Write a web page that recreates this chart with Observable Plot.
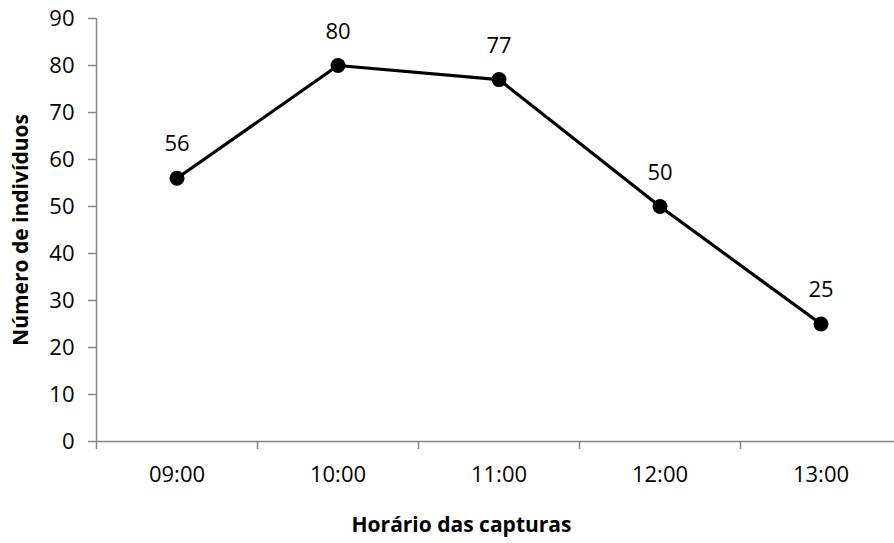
<!DOCTYPE html>
<html><head><meta charset="utf-8">
<script src="https://cdn.jsdelivr.net/npm/d3@7"></script>
<script src="https://cdn.jsdelivr.net/npm/@observablehq/plot@0.6"></script>
<style>body{margin:0;background:#fff}</style>
</head><body><div id="chart"></div>
<script>
const categories = ["09:00","10:00","11:00","12:00","13:00"];
const values = [56, 80, 77, 50, 25];
const yTicks = [0,10,20,30,40,50,60,70,80,90];
const yTitle = "Número de indivíduos";
const xTitle = "Horário das capturas";

const data = categories.map((c, i) => ({pos: i + 0.5, c, v: values[i]}));
const boundaries = d3.range(categories.length + 1);
const gray = "#868686";

const chart = Plot.plot({
  width: 894, height: 543,
  marginLeft: 96, marginTop: 18, marginBottom: 102, marginRight: 0,
  style: {fontFamily: "Open Sans", fontSize: "22px", color: "#000", background: "#fff", overflow: "visible"},
  x: {type: "linear", domain: [0, categories.length], range: [96, 901]},
  y: {domain: [0, 90], range: [441, 18]},
  marks: [
    Plot.axisY({ticks: yTicks, tickSize: 8, tickPadding: 14, stroke: gray, strokeWidth: 1.5, label: null, fontSize: 22}),
    Plot.axisX({ticks: boundaries, tickSize: 8, tickFormat: () => "", stroke: gray, strokeWidth: 1.5, label: null}),
    Plot.axisX({ticks: data.map(d => d.pos), tickSize: 0, tickPadding: 25, tickFormat: d => categories[Math.floor(d)], label: null, fontSize: 22}),
    Plot.ruleX([0], {stroke: gray, strokeWidth: 1.5}),
    Plot.ruleY([0], {stroke: gray, strokeWidth: 1.5}),
    Plot.line(data, {x: "pos", y: "v", stroke: "#000", strokeWidth: 3.2}),
    Plot.dot(data, {x: "pos", y: "v", r: 7.5, fill: "#000"}),
    Plot.text(data, {x: "pos", y: "v", text: d => String(d.v), dy: -34, fontSize: 22}),
    Plot.text([yTitle], {frameAnchor: "left", textAnchor: "middle", rotate: -90, dx: -75, fontWeight: "bold", fontSize: 21}),
    Plot.text([xTitle], {frameAnchor: "bottom", lineAnchor: "middle", dx: -34, dy: 84, fontWeight: "bold", fontSize: 21})
  ]
});
document.getElementById("chart").append(chart);
</script>
</body></html>
